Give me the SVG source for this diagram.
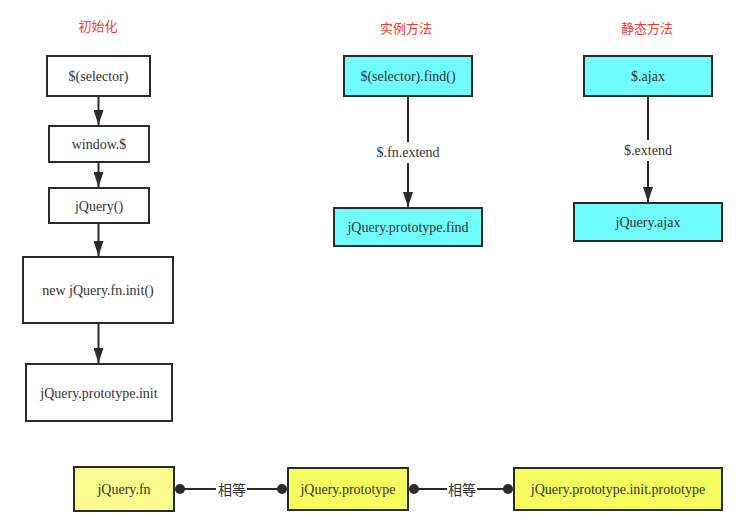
<svg xmlns="http://www.w3.org/2000/svg" width="754" height="527" viewBox="0 0 754 527">
  <style>
    .box { stroke: #2b2b2b; stroke-width: 2; }
    .plain { fill: #ffffff; }
    .cyan { fill: #6ffcfc; }
    .ylight { fill: #f9fd8e; }
    .ydark { fill: #f6fd5f; }
    .lbl { font-family: 'Liberation Serif', 'Times New Roman', serif; font-size: 14px; fill: #333333; text-anchor: middle; dominant-baseline: central; }
    .title { font-family: 'Noto Sans CJK SC', sans-serif; font-size: 13px; fill: #f03c2e; text-anchor: middle; dominant-baseline: central; }
    .cn { font-family: 'Noto Sans CJK SC', sans-serif; font-size: 14px; fill: #333333; text-anchor: middle; dominant-baseline: central; }
    .edge { stroke: #2b2b2b; stroke-width: 2; fill: none; }
    .arrow { stroke: #2b2b2b; stroke-width: 2; fill: none; marker-end: url(#head); }
    .dot { fill: #2b2b2b; }
  </style>
  <defs>
    <marker id="head" viewBox="0 0 15 10" refX="15" refY="5" markerUnits="userSpaceOnUse" markerWidth="15" markerHeight="10" orient="auto">
      <path d="M0,0 L15,5 L0,10 Z" fill="#2b2b2b"/>
    </marker>
  </defs>

  <!-- section titles -->
  <text class="title" x="98" y="25">初始化</text>
  <text class="title" x="406" y="27">实例方法</text>
  <text class="title" x="647" y="27">静态方法</text>

  <!-- connectors -->
  <g id="connectors">
    <line class="arrow" x1="98.5" y1="96" x2="98.5" y2="125"/>
    <line class="arrow" x1="98.5" y1="162" x2="98.5" y2="187"/>
    <line class="arrow" x1="98.5" y1="223" x2="98.5" y2="256"/>
    <line class="arrow" x1="98.5" y1="323" x2="98.5" y2="363"/>

    <line class="edge" x1="408" y1="96" x2="408" y2="142"/>
    <text class="lbl" x="408" y="152">$.fn.extend</text>
    <line class="arrow" x1="408" y1="163" x2="408" y2="207"/>

    <line class="edge" x1="648" y1="96" x2="648" y2="140"/>
    <text class="lbl" x="648" y="150">$.extend</text>
    <line class="arrow" x1="648" y1="161" x2="648" y2="202"/>

    <line class="edge" x1="180" y1="489" x2="216" y2="489"/>
    <line class="edge" x1="247" y1="489" x2="282" y2="489"/>
    <circle class="dot" cx="180" cy="489" r="5"/>
    <circle class="dot" cx="282" cy="489" r="5"/>
    <text class="cn" x="232" y="489">相等</text>

    <line class="edge" x1="414" y1="489" x2="447" y2="489"/>
    <line class="edge" x1="477" y1="489" x2="508" y2="489"/>
    <circle class="dot" cx="414" cy="489" r="5"/>
    <circle class="dot" cx="508" cy="489" r="5"/>
    <text class="cn" x="462" y="489">相等</text>
  </g>

  <!-- initialization chain -->
  <g id="selector">
    <rect class="box plain" x="47" y="56" width="103" height="40"/>
    <text class="lbl" x="98.5" y="76">$(selector)</text>
  </g>
  <g id="window">
    <rect class="box plain" x="49" y="126" width="100" height="36"/>
    <text class="lbl" x="99" y="144">window.$</text>
  </g>
  <g id="jquery-call">
    <rect class="box plain" x="49" y="188" width="100" height="35"/>
    <text class="lbl" x="99" y="206">jQuery()</text>
  </g>
  <g id="fn-init">
    <rect class="box plain" x="23" y="257" width="150" height="66"/>
    <text class="lbl" x="98" y="290">new jQuery.fn.init()</text>
  </g>
  <g id="prototype-init">
    <rect class="box plain" x="26" y="364" width="146" height="57"/>
    <text class="lbl" x="99" y="393">jQuery.prototype.init</text>
  </g>

  <!-- instance methods -->
  <g id="selector-find">
    <rect class="box cyan" x="344" y="56" width="128" height="40"/>
    <text class="lbl" x="408" y="76">$(selector).find()</text>
  </g>
  <g id="prototype-find">
    <rect class="box cyan" x="334" y="208" width="148" height="38"/>
    <text class="lbl" x="408" y="227">jQuery.prototype.find</text>
  </g>

  <!-- static methods -->
  <g id="dollar-ajax">
    <rect class="box cyan" x="584" y="56" width="128" height="40"/>
    <text class="lbl" x="648" y="76">$.ajax</text>
  </g>
  <g id="jquery-ajax">
    <rect class="box cyan" x="574" y="203" width="148" height="38"/>
    <text class="lbl" x="648" y="222">jQuery.ajax</text>
  </g>

  <!-- equality row -->
  <g id="jquery-fn">
    <rect class="box ylight" x="74" y="467" width="100" height="44"/>
    <text class="lbl" x="124" y="489">jQuery.fn</text>
  </g>
  <g id="jquery-prototype">
    <rect class="box ydark" x="288" y="468" width="120" height="42"/>
    <text class="lbl" x="348" y="489">jQuery.prototype</text>
  </g>
  <g id="init-prototype">
    <rect class="box ydark" x="514" y="468" width="208" height="42"/>
    <text class="lbl" x="618" y="489">jQuery.prototype.init.prototype</text>
  </g>
</svg>
